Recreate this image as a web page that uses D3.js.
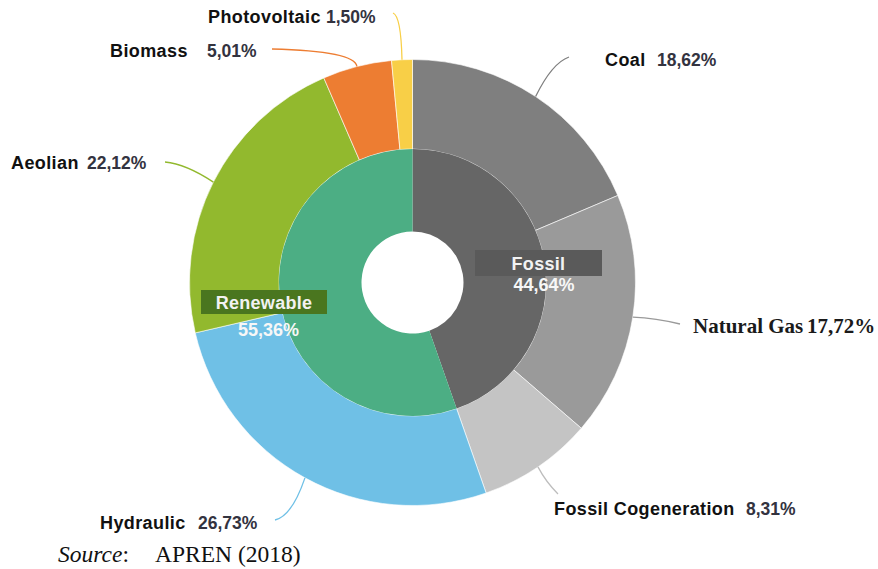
<!DOCTYPE html>
<html>
<head>
<meta charset="utf-8">
<script src="https://cdn.jsdelivr.net/npm/d3@7"></script>
<style>
  html, body { margin: 0; padding: 0; background: #fff; }
  svg { display: block; }
</style>
</head>
<body>
<svg id="chart" width="878" height="569"></svg>
<script>
// ---- data ----
const sources = ["Coal", "Natural Gas", "Fossil Cogeneration", "Hydraulic", "Aeolian", "Biomass", "Photovoltaic"];
const sourceValues = [18.62, 17.72, 8.31, 26.73, 22.12, 5.01, 1.50];
const sourceLabels = ["18,62%", "17,72%", "8,31%", "26,73%", "22,12%", "5,01%", "1,50%"];
const groups = ["Fossil", "Renewable"];
const groupValues = [44.64, 55.36];
const groupLabels = ["44,64%", "55,36%"];

// ---- styles / layout ----
const sourceColors = ["#7f7f7f", "#9a9a9a", "#c4c4c4", "#6fc0e6", "#92b92e", "#ed7d32", "#f8cf47"];
const groupColors = ["#666666", "#4cae84"];
const cx = 412.5, cy = 282.5, r0 = 51, r1 = 133.5, r2 = 223;

// label layout: name x, pct x, baseline y, leader end, leader control
const labelLayout = {
  "Coal":                {nx: 605, px: 657, y: 66,  end: [569, 57],  ctrl: [552, 63],  font: "sans"},
  "Natural Gas":         {nx: 693, px: 807, y: 333, end: [680, 324], ctrl: [656, 318], font: "serif"},
  "Fossil Cogeneration": {nx: 554, px: 746, y: 515, end: [558, 494], ctrl: [546, 482], font: "sans"},
  "Hydraulic":           {nx: 100, px: 198, y: 529, end: [275, 520], ctrl: [292, 516], font: "sans"},
  "Aeolian":             {nx: 11,  px: 87,  y: 169, end: [165, 162], ctrl: [186, 164], font: "sans"},
  "Biomass":             {nx: 110, px: 207, y: 57,  end: [272, 49],  ctrl: [355, 51],  font: "sans"},
  "Photovoltaic":        {nx: 208, px: 326, y: 23,  end: [393, 13],  ctrl: [401, 16],  font: "sans"}
};
const groupLayout = {
  "Fossil":    {box: [475, 250, 127, 26], fill: "#5a5a5a", tx: 538.5, ty: 269.5, px: 544, py: 291},
  "Renewable": {box: [201, 290, 126, 24], fill: "#4a761f", tx: 264, ty: 308.5, px: 268.5, py: 335.5}
};

const svg = d3.select("#chart");
const g = svg.append("g").attr("transform", `translate(${cx},${cy})`);

const pie = d3.pie().sort(null).value(d => d).startAngle(0).endAngle(2 * Math.PI);
const outerArcs = pie(sourceValues);
const innerArcs = pie(groupValues);

const arcOuter = d3.arc().innerRadius(r1).outerRadius(r2);
const arcInner = d3.arc().innerRadius(r0).outerRadius(r1);

g.selectAll("path.outer").data(outerArcs).join("path")
  .attr("class", "outer")
  .attr("d", arcOuter)
  .attr("fill", (d, i) => sourceColors[i])
  .attr("stroke", "#ffffff").attr("stroke-width", 0.6);

g.selectAll("path.inner").data(innerArcs).join("path")
  .attr("class", "inner")
  .attr("d", arcInner)
  .attr("fill", (d, i) => groupColors[i]);

// leader lines
outerArcs.forEach((d, i) => {
  const L = labelLayout[sources[i]];
  const a = (d.startAngle + d.endAngle) / 2;
  const sx = cx + r2 * Math.sin(a), sy = cy - r2 * Math.cos(a);
  const p = d3.path();
  p.moveTo(sx, sy);
  p.quadraticCurveTo(L.ctrl[0], L.ctrl[1], L.end[0], L.end[1]);
  svg.append("path").attr("d", p.toString())
    .attr("fill", "none")
    .attr("stroke", sourceColors[i] === "#c4c4c4" ? "#bdbdbd" : sourceColors[i])
    .attr("stroke-width", 1.3);
});

// outer labels
sources.forEach((name, i) => {
  const L = labelLayout[name];
  if (L.font === "serif") {
    svg.append("text").attr("x", L.nx).attr("y", L.y)
      .attr("font-family", "'Liberation Serif', 'Times New Roman', serif")
      .attr("font-weight", "bold").attr("font-size", 21).attr("fill", "#1a1a1a")
      .text(name);
    svg.append("text").attr("x", L.px).attr("y", L.y)
      .attr("font-family", "'Liberation Serif', 'Times New Roman', serif")
      .attr("font-weight", "bold").attr("font-size", 21).attr("fill", "#1a1a1a")
      .text(sourceLabels[i]);
  } else {
    svg.append("text").attr("x", L.nx).attr("y", L.y)
      .attr("font-family", "'Liberation Sans', Arial, sans-serif")
      .attr("font-weight", "bold").attr("font-size", 18).attr("letter-spacing", 0.4)
      .attr("fill", "#111111")
      .text(name);
    svg.append("text").attr("x", L.px).attr("y", L.y)
      .attr("font-family", "'Liberation Sans', Arial, sans-serif")
      .attr("font-weight", "bold").attr("font-size", 17.5).attr("fill", "#33333f")
      .text(sourceLabels[i]);
  }
});

// group labels
groups.forEach((name, i) => {
  const L = groupLayout[name];
  svg.append("rect").attr("x", L.box[0]).attr("y", L.box[1])
    .attr("width", L.box[2]).attr("height", L.box[3]).attr("fill", L.fill);
  svg.append("text").attr("x", L.tx).attr("y", L.ty).attr("text-anchor", "middle")
    .attr("font-family", "'Liberation Sans', Arial, sans-serif")
    .attr("font-weight", "bold").attr("font-size", 18).attr("letter-spacing", 0.3)
    .attr("fill", "#f2f2f2")
    .text(name);
  svg.append("text").attr("x", L.px).attr("y", L.py).attr("text-anchor", "middle")
    .attr("font-family", "'Liberation Sans', Arial, sans-serif")
    .attr("font-weight", "bold").attr("font-size", 18).attr("fill", "#f7f7f7")
    .text(groupLabels[i]);
});

// source note
const src = svg.append("text").attr("y", 562)
  .attr("font-family", "'Liberation Serif', 'Times New Roman', serif")
  .attr("font-size", 23.5).attr("fill", "#111");
src.append("tspan").attr("x", 58).attr("font-style", "italic").text("Source");
src.append("tspan").text(":");
src.append("tspan").attr("x", 155).text("APREN (2018)");
</script>
</body>
</html>
